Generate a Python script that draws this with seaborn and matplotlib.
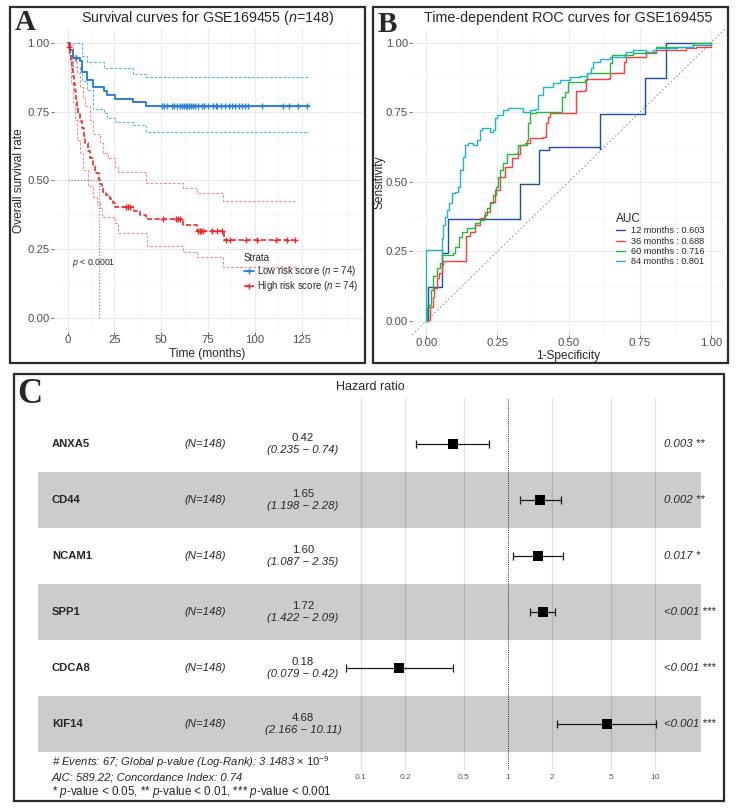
import numpy as np
import matplotlib
matplotlib.use("Agg")
import matplotlib.pyplot as plt
import seaborn as sns
from matplotlib.lines import Line2D
from matplotlib.patches import Rectangle

# ---- panel A : Kaplan-Meier data (months, survival) ----
low_t = [0, 1.5, 3.0, 6.6, 7.5, 10.1, 13.7, 19.6, 20.8, 25.3, 34.7, 41.7, 129]
low_s = [1.0, 0.973, 0.946, 0.932, 0.892, 0.865, 0.838, 0.824, 0.811, 0.797, 0.784, 0.770, 0.770]
low_up = [1.0, 1.0, 1.0, 1.0, 0.951, 0.931, 0.931, 0.907, 0.907, 0.907, 0.885, 0.874, 0.874]
low_lo = [1.0, 0.94, 0.91, 0.89, 0.86, 0.83, 0.76, 0.745, 0.728, 0.713, 0.701, 0.677, 0.677]
low_cens = [4.5, 50.2, 51.5, 53.0, 55.5, 57.0, 58.5, 60.0, 61.0, 62.0, 63.0, 64.0, 65.0,
            66.0, 67.0, 68.0, 69.5, 72.0, 73.0, 75.0, 77.5, 79.0, 80.0, 82.0, 84.0, 86.0,
            88.0, 89.5, 91.5, 93.0, 94.5, 96.5, 103.6, 114.8, 118.4, 123.2, 127.7]

high_t = [0, 0.5, 1.0, 1.5, 2.0, 2.5, 3.0, 3.5, 4.0, 4.5, 5.0, 5.8, 6.6, 7.5, 8.5, 9.5,
          11.0, 12.0, 13.7, 14.6, 16.9, 17.5, 18.2, 19.0, 20.5, 22.6, 24.0, 25.3, 35.4,
          38.5, 41.8, 61.4, 68.9, 83.3, 122]
high_s = [1.0, 0.986, 0.973, 0.959, 0.932, 0.905, 0.878, 0.851, 0.824, 0.797, 0.770,
          0.743, 0.716, 0.689, 0.662, 0.635, 0.608, 0.581, 0.554, 0.527, 0.500, 0.486,
          0.473, 0.459, 0.446, 0.432, 0.419, 0.405, 0.390, 0.375, 0.360, 0.338, 0.318,
          0.284, 0.284]
high_up_t = [0, 1.0, 2.0, 3.0, 4.0, 5.0, 6.6, 8.0, 9.5, 11.9, 13.7, 17.3, 19.0, 21.7,
             25.3, 27.0, 41.8, 61.8, 68.9, 83.2, 122]
high_up = [1.0, 1.0, 0.99, 0.96, 0.93, 0.89, 0.84, 0.80, 0.77, 0.72, 0.67, 0.635, 0.599,
           0.58, 0.55, 0.532, 0.49, 0.472, 0.453, 0.427, 0.427]
high_lo_t = [0, 0.5, 1.0, 2.0, 3.0, 3.9, 4.8, 6.6, 8.4, 11.0, 13.7, 15.5, 17.3, 18.2,
             25.3, 27.0, 42.2, 61.8, 68.9, 83.2, 122]
high_lo = [1.0, 0.96, 0.93, 0.85, 0.78, 0.72, 0.647, 0.599, 0.538, 0.48, 0.441, 0.417,
           0.399, 0.369, 0.345, 0.308, 0.262, 0.242, 0.224, 0.187, 0.187]
high_cens = [0.8, 31.3, 32.5, 33.5, 51.1, 57.9, 59.1, 60.0, 69.8, 70.6, 71.5, 72.5, 76.9,
             79.6, 82.3, 84.6, 86.7, 95.3, 101.3, 111.3, 117.0, 121.5]
median_high = 16.9

# ---- panel B : time-dependent ROC ----
roc12_fpr = [0, 0.007, 0.007, 0.054, 0.054, 0.077, 0.077, 0.329, 0.329, 0.397, 0.397,
             0.43, 0.47, 0.609, 0.609, 0.767, 0.767, 0.843, 0.843, 1.0]
roc12_tpr = [0, 0, 0.123, 0.123, 0.243, 0.249, 0.366, 0.366, 0.491, 0.491, 0.614,
             0.624, 0.626, 0.618, 0.743, 0.749, 0.874, 0.874, 1.0, 1.0]
roc36_fpr = [0, 0.007, 0.013, 0.022, 0.027, 0.036, 0.046, 0.054, 0.060, 0.136, 0.139,
             0.153, 0.171, 0.188, 0.206, 0.223, 0.241, 0.259, 0.276, 0.300, 0.323, 0.329,
             0.346, 0.364, 0.411, 0.420, 0.428, 0.434, 0.522, 0.525, 0.557, 0.560, 0.642,
             0.645, 0.691, 0.695, 0.703, 0.773, 0.808, 0.879, 0.914, 0.949, 1.0]
roc36_tpr = [0, 0.004, 0.051, 0.087, 0.117, 0.153, 0.171, 0.201, 0.217, 0.217, 0.305,
             0.321, 0.345, 0.369, 0.393, 0.429, 0.471, 0.519, 0.554, 0.585, 0.600, 0.632,
             0.639, 0.657, 0.660, 0.710, 0.732, 0.749, 0.749, 0.828, 0.830, 0.869, 0.872,
             0.892, 0.892, 0.932, 0.950, 0.962, 0.974, 0.974, 0.980, 0.986, 1.0]
roc60_fpr = [0, 0.001, 0.001, 0.011, 0.015, 0.022, 0.036, 0.048, 0.054, 0.095, 0.101,
             0.116, 0.124, 0.142, 0.171, 0.188, 0.202, 0.212, 0.223, 0.235, 0.245, 0.253,
             0.259, 0.270, 0.282, 0.317, 0.323, 0.352, 0.358, 0.364, 0.387, 0.475, 0.478,
             0.487, 0.498, 0.498, 0.557, 0.563, 0.642, 0.645, 0.651, 0.726, 0.767, 0.808,
             0.808, 0.937, 0.937, 1.0]
roc60_tpr = [0, 0.004, 0.051, 0.057, 0.111, 0.162, 0.189, 0.207, 0.237, 0.243, 0.267,
             0.303, 0.321, 0.333, 0.351, 0.363, 0.381, 0.405, 0.423, 0.453, 0.483, 0.519,
             0.543, 0.569, 0.600, 0.602, 0.632, 0.650, 0.710, 0.746, 0.752, 0.752, 0.806,
             0.824, 0.848, 0.860, 0.866, 0.890, 0.892, 0.926, 0.956, 0.962, 0.968, 0.976,
             0.986, 0.992, 1.0, 1.0]
roc84_fpr = [0, 0, 0.054, 0.056, 0.060, 0.066, 0.073, 0.081, 0.089, 0.101, 0.112, 0.118,
             0.118, 0.130, 0.136, 0.147, 0.165, 0.177, 0.188, 0.194, 0.223, 0.235, 0.241,
             0.249, 0.270, 0.288, 0.340, 0.364, 0.381, 0.393, 0.411, 0.446, 0.469, 0.504,
             0.539, 0.563, 0.580, 0.586, 0.609, 0.645, 0.697, 0.703, 0.726, 0.773, 0.797,
             0.808, 0.879, 0.937, 1.0]
roc84_tpr = [0, 0.255, 0.241, 0.300, 0.345, 0.375, 0.400, 0.423, 0.459, 0.465, 0.483,
             0.519, 0.543, 0.590, 0.632, 0.639, 0.632, 0.650, 0.686, 0.692, 0.680, 0.686,
             0.728, 0.740, 0.758, 0.764, 0.752, 0.758, 0.761, 0.812, 0.842, 0.854, 0.866,
             0.875, 0.880, 0.892, 0.908, 0.932, 0.940, 0.950, 0.959, 0.968, 0.974, 0.968,
             0.974, 0.980, 0.986, 0.992, 1.0]
roc_labels = ["12 months : 0.603", "36 months : 0.688", "60 months : 0.716", "84 months : 0.801"]
roc_colors = ["#1f4e9c", "#ff3b3b", "#22b83a", "#1db4d2"]

# ---- panel C : forest plot ----
genes = ["ANXA5", "CD44", "NCAM1", "SPP1", "CDCA8", "KIF14"]
hr = [0.42, 1.65, 1.60, 1.72, 0.18, 4.68]
hr_lo = [0.235, 1.198, 1.087, 1.422, 0.079, 2.166]
hr_hi = [0.74, 2.28, 2.35, 2.09, 0.42, 10.11]
hr_txt = ["0.42", "1.65", "1.60", "1.72", "0.18", "4.68"]
ci_txt = ["(0.235 \u2212 0.74)", "(1.198 \u2212 2.28)", "(1.087 \u2212 2.35)",
          "(1.422 \u2212 2.09)", "(0.079 \u2212 0.42)", "(2.166 \u2212 10.11)"]
pvals = ["0.003 **", "0.002 **", "0.017 *", "<0.001 ***", "<0.001 ***", "<0.001 ***"]
hr_ticks = [0.1, 0.2, 0.5, 1, 2, 5, 10]

sns.set_style("white")
plt.rcParams['font.family'] = ['Liberation Sans', 'DejaVu Sans']
plt.rcParams['mathtext.fontset'] = 'custom'
plt.rcParams['mathtext.rm'] = 'Liberation Sans'
plt.rcParams['mathtext.it'] = 'Liberation Sans:italic'
plt.rcParams['mathtext.bf'] = 'Liberation Sans:bold'

W, H = 738, 809
fig = plt.figure(figsize=(W / 100, H / 100), dpi=100)


def box(l, t, r, b):
    return [l / W, 1 - b / H, (r - l) / W, (b - t) / H]


def fx(x):
    return x / W


def fy(y):
    return 1 - y / H


def step_at(ts, ss, x):
    idx = np.searchsorted(ts, x, side="right") - 1
    return np.asarray(ss)[idx]


def gg_axes(ax):
    sns.despine(ax=ax, left=True, bottom=True)
    ax.set_axisbelow(True)
    ax.grid(True, which="major", color="#EBEBEB", lw=0.8)
    ax.grid(True, which="minor", color="#F4F4F4", lw=0.5)
    ax.tick_params(which="major", bottom=True, left=True, length=2, width=0.6,
                   color="#555555", labelsize=8.2, labelcolor="#4d4d4d", pad=1)
    ax.tick_params(axis="x", which="major", pad=0)
    ax.tick_params(which="minor", length=0)


# panel borders
for l, t, r, b in [(10, 7, 365, 363), (373, 7, 728, 363), (14, 374, 724, 801)]:
    fig.patches.append(Rectangle((fx(l), fy(b)), (r - l) / W, (b - t) / H,
                                 transform=fig.transFigure, fill=False,
                                 edgecolor="#2b2b2b", lw=1.6))

# ---------------- A ----------------
blue, blue_ci = "#2a7fd4", "#5ab4ec"
red, red_ci = "#f0282d", "#ff8a8a"
axA = fig.add_axes(box(53.6, 28.9, 362.5, 332.1))
sns.lineplot(x=low_t, y=low_up, ax=axA, color=blue_ci, lw=0.8, ls=(0, (2.5, 1.5)),
             drawstyle="steps-post", sort=False, estimator=None)
sns.lineplot(x=low_t, y=low_lo, ax=axA, color=blue_ci, lw=0.8, ls=(0, (2.5, 1.5)),
             drawstyle="steps-post", sort=False, estimator=None)
sns.lineplot(x=high_up_t, y=high_up, ax=axA, color=red_ci, lw=0.8, ls=(0, (2.5, 1.5)),
             drawstyle="steps-post", sort=False, estimator=None)
sns.lineplot(x=high_lo_t, y=high_lo, ax=axA, color=red_ci, lw=0.8, ls=(0, (2.5, 1.5)),
             drawstyle="steps-post", sort=False, estimator=None)
sns.lineplot(x=low_t, y=low_s, ax=axA, color=blue, lw=1.4,
             drawstyle="steps-post", sort=False, estimator=None)
sns.lineplot(x=high_t, y=high_s, ax=axA, color=red, lw=1.2, ls=(0, (3, 1.5)),
             drawstyle="steps-post", sort=False, estimator=None)
sns.scatterplot(x=low_cens, y=step_at(low_t, low_s, low_cens), ax=axA, marker="+",
                color=blue, s=22, linewidth=1.0, zorder=5)
sns.scatterplot(x=high_cens, y=step_at(high_t, high_s, high_cens), ax=axA, marker="+",
                color=red, s=22, linewidth=1.0, zorder=5)
axA.hlines(0.5, 0, median_high, colors="#888888", lw=0.9, ls=(0, (1, 1.5)))
axA.vlines(median_high, 0, 0.5, colors="#888888", lw=0.9, ls=(0, (1, 1.5)))
axA.set_xlim(-7.5, 157.5)
axA.set_ylim(-0.05, 1.05)
axA.set_xticks(np.arange(0, 126, 25), ["0", "25", "50", "75", "100", "125"])
axA.set_xticks(np.arange(0, 151, 12.5), minor=True)
axA.set_yticks([0, 0.25, 0.5, 0.75, 1.0], ["0.00", "0.25", "0.50", "0.75", "1.00"])
axA.set_yticks(np.arange(0, 1.01, 0.125), minor=True)
gg_axes(axA)
axA.set_xlabel("Time (months)", fontsize=8.6)
axA.set_ylabel("Overall survival rate", fontsize=8.6)
axA.xaxis.set_label_coords((207 - 53.6) / 308.9, -(348.5 - 332.1) / 303.2)
axA.yaxis.set_label_coords((19 - 53.6) / 308.9, 0.5)
axA.xaxis.label.set_va("top")
axA.yaxis.label.set_va("center")
axA.text(2.3, 0.2, "$p$ < 0.0001", fontsize=6.3, ha="left", va="center")
hA = [Line2D([], [], color=blue, lw=1.3, marker="+", ms=5),
      Line2D([], [], color=red, lw=1.2, ls=(0, (3, 1.5)), marker="+", ms=5)]
axA.legend(hA, ["Low risk score ($n$ = 74)", "High risk score ($n$ = 74)"], title="Strata",
           loc="upper left", bbox_to_anchor=(fx(244), fy(253)), bbox_transform=fig.transFigure,
           frameon=False, fontsize=6.9, title_fontsize=7, handlelength=1.0,
           handletextpad=0.4, labelspacing=0.1, borderaxespad=0, borderpad=0,
           alignment="left")
fig.text(fx(207.5), fy(18), "Survival curves for GSE169455 ($n$=148)", fontsize=10.3,
         ha="center", va="center")

# ---------------- B ----------------
axB = fig.add_axes(box(412.1, 28.8, 725.2, 334.9))
axB.axline((0, 0), slope=1, color="#9a9a9a", lw=0.8, ls=(0, (1.5, 2)))
roc_fpr = [roc12_fpr, roc36_fpr, roc60_fpr, roc84_fpr]
roc_tpr = [roc12_tpr, roc36_tpr, roc60_tpr, roc84_tpr]
for xs, ys, c in zip(roc_fpr, roc_tpr, roc_colors):
    sns.lineplot(x=xs, y=ys, ax=axB, color=c, lw=1.0, drawstyle="steps-post",
                 sort=False, estimator=None)
axB.set_xlim(-0.05, 1.05)
axB.set_ylim(-0.05, 1.05)
ticks = [0, 0.25, 0.5, 0.75, 1.0]
labs = ["0.00", "0.25", "0.50", "0.75", "1.00"]
axB.set_xticks(ticks, labs)
axB.set_yticks(ticks, labs)
axB.set_xticks(np.arange(0, 1.01, 0.125), minor=True)
axB.set_yticks(np.arange(0, 1.01, 0.125), minor=True)
gg_axes(axB)
axB.set_xlabel("1-Specificity", fontsize=8.6)
axB.set_ylabel("Sensitivity", fontsize=8.6)
axB.xaxis.set_label_coords((568 - 412.1) / 313.1, -(350 - 334.9) / 306.1)
axB.yaxis.set_label_coords((380 - 412.1) / 313.1, 0.5)
axB.xaxis.label.set_va("top")
axB.yaxis.label.set_va("center")
hB = [Line2D([], [], color=c, lw=1.0) for c in roc_colors]
axB.legend(hB, roc_labels, title="AUC", loc="upper left",
           bbox_to_anchor=(fx(616), fy(213)), bbox_transform=fig.transFigure,
           frameon=False, fontsize=6.6, title_fontsize=8.5, handlelength=1.0,
           handletextpad=0.6, labelspacing=0.15, borderaxespad=0, borderpad=0,
           alignment="left")
fig.text(fx(568), fy(18), "Time-dependent ROC curves for GSE169455", fontsize=10.3,
         ha="center", va="center")

# ---------------- C ----------------
axC = fig.add_axes(box(38, 398, 701, 770))
axC.set_xscale("log")
axC.set_xlim(10 ** -3.197, 10 ** 1.313)
axC.set_ylim(5.821, -0.821)
rows = np.arange(len(genes))
for i in rows[1::2]:
    axC.axhspan(i - 0.5, i + 0.5, color="#cccccc", lw=0, zorder=0)
for v in hr_ticks:
    if v == 1:
        axC.axvline(v, color="#222222", lw=0.7, ls=(0, (1, 1.2)), zorder=1)
    else:
        axC.axvline(v, color="black", alpha=0.12, lw=0.8, zorder=1)
hr_a = np.array(hr)
axC.errorbar(hr_a, rows, xerr=[hr_a - np.array(hr_lo), np.array(hr_hi) - hr_a], fmt="none",
             ecolor="#1a1a1a", elinewidth=0.9, capsize=3, capthick=0.9, zorder=3)
sns.scatterplot(x=hr, y=rows, ax=axC, marker="s", s=62, color="black", linewidth=0,
                zorder=4)
for s in axC.spines.values():
    s.set_visible(False)
axC.set_xticks(hr_ticks, [str(v) for v in hr_ticks])
axC.minorticks_off()
axC.set_yticks([])
axC.tick_params(axis="x", bottom=False, length=0, labelsize=6, labelcolor="#555555", pad=3)
axC.set_xlabel("")
axC.set_ylabel("")
tr = axC.get_yaxis_transform()
for i in rows:
    axC.text((52 - 38) / 663, i, genes[i], transform=tr, fontsize=8.1, weight="bold",
             ha="left", va="center")
    axC.text((205 - 38) / 663, i, "(N=148)", transform=tr, fontsize=8.2, style="italic",
             ha="center", va="center")
    axC.text((303 - 38) / 663, i - 0.1, hr_txt[i], transform=tr, fontsize=8.2,
             ha="center", va="center")
    axC.text((303 - 38) / 663, i + 0.1, ci_txt[i], transform=tr, fontsize=8.2,
             style="italic", ha="center", va="center")
    axC.text((664 - 38) / 663, i, pvals[i], transform=tr, fontsize=8.2, style="italic",
             ha="left", va="center")
fig.text(fx(370), fy(387), "Hazard ratio", fontsize=9, ha="center", va="center")
fig.text(fx(52), fy(762),
         r"# Events: 67; Global p-value (Log-Rank): 3.1483 $\times$ $\mathit{10^{-9}}$",
         fontsize=8.1, style="italic", ha="left", va="center")
fig.text(fx(52), fy(778), "AIC: 589.22; Concordance Index: 0.74", fontsize=8.1,
         style="italic", ha="left", va="center")
fig.text(fx(52), fy(792),
         r"* $p$-value < 0.05, ** $p$-value < 0.01, *** $p$-value < 0.001",
         fontsize=8.4, ha="left", va="center")

# panel letters
for x, y, s, fs in [(25, 23, "A", 21), (387, 24, "B", 21), (30, 394, "C", 25)]:
    fig.text(fx(x), fy(y), s, fontsize=fs, weight="bold", family="Liberation Serif",
             ha="center", va="center")

fig.savefig("out.png", dpi=100)
